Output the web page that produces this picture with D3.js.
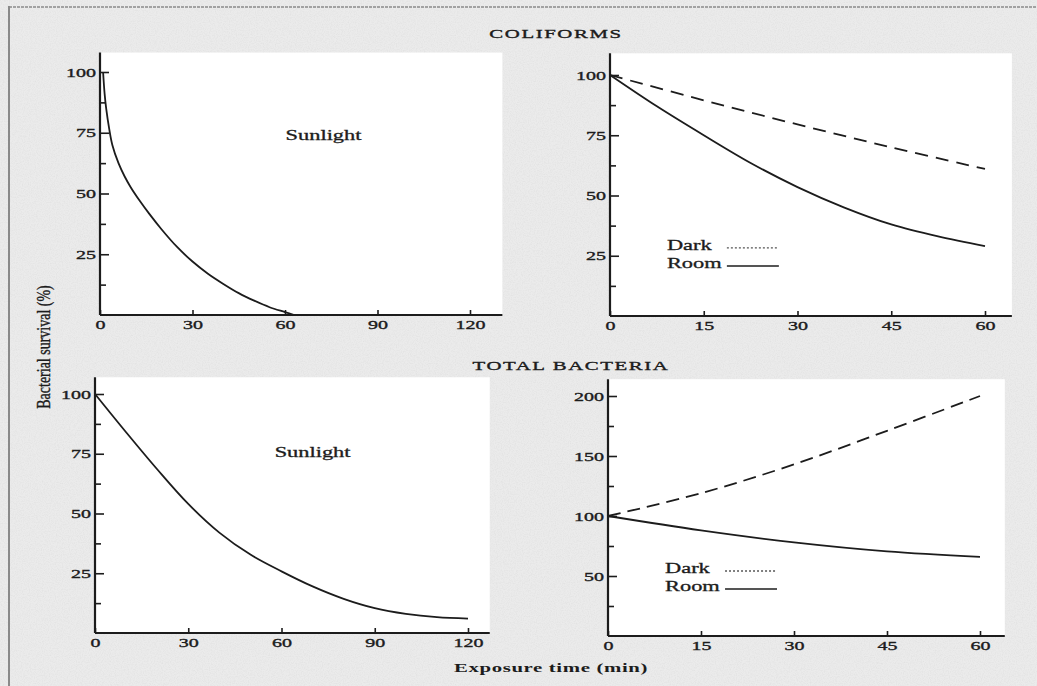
<!DOCTYPE html>
<html>
<head>
<meta charset="utf-8">
<script src="https://cdn.jsdelivr.net/npm/d3@7"></script>
<style>
  body { margin: 0; background: #e8e8e8; }
  svg { display: block; }
</style>
</head>
<body>
<div id="chart"></div>
<script>
// ---- values ----
// Coliforms, sunlight (0-120 min)
const coliSunTime = [1, 1.5, 2, 3, 4, 6, 8, 10, 13, 16, 20, 25, 30, 35, 40, 45, 50, 55, 60, 63];
const coliSunSurvival = [100, 91, 85, 76.5, 70, 62.5, 57, 52.5, 46.8, 41.6, 35.2, 28, 22, 17, 12.8, 9, 5.9, 3.2, 1.2, 0];

// Coliforms, dark vs room (0-60 min)
const coliDarkTime = [0, 15, 30, 45, 60];
const coliDarkSurvival = [100, 89.5, 79.5, 70, 61];
const coliRoomTime = [0, 7.5, 15, 22.5, 30, 37.5, 45, 52.5, 60];
const coliRoomSurvival = [100, 87, 75, 63.5, 53.5, 45, 38, 33, 29];

// Total bacteria, sunlight (0-120 min)
const totalSunTime = [0, 10, 20, 30, 40, 50, 60, 70, 80, 90, 100, 110, 120];
const totalSunSurvival = [100, 84, 68.5, 54, 42, 32.8, 25.8, 19.5, 14.3, 10.4, 8, 6.6, 6];

// Total bacteria, dark vs room (0-60 min)
const totalDarkTime = [0, 15, 30, 45, 60];
const totalDarkSurvival = [100, 119, 143, 171, 200];
const totalRoomTime = [0, 15, 30, 45, 60];
const totalRoomSurvival = [100, 88, 78, 70.5, 66];

// tick labels
const ticks120 = [0, 30, 60, 90, 120];
const ticks60 = [0, 15, 30, 45, 60];
const ticks100 = [25, 50, 75, 100];
const minor100 = [12.5, 37.5, 62.5, 87.5];
const ticks200 = [50, 100, 150, 200];
const minor200 = [25, 75, 125, 175];

const legendLabels = ["Dark", "Room"];

const zip = (t, v) => t.map((d, i) => ({ t: d, v: v[i] }));

// ---- layout ----
const W = 1037, H = 686;
const INK = "#1c1c1c";
const SERIF = "'Liberation Serif', 'DejaVu Serif', serif";
const STRETCH = 1.6; // the scan is stretched sideways

const panels = [
  {
    xDomain: [0, 120], xRange: [100, 470], xEnd: 130.5, xTicks: ticks120,
    yDomain: [0, 100], yRange: [315, 72], yTop: 108, yTicks: ticks100, yMinor: minor100,
    series: [{ data: zip(coliSunTime, coliSunSurvival), dash: null }],
    note: { text: "Sunlight", t: 72.5, v: 72 }
  },
  {
    xDomain: [0, 60], xRange: [610, 985], xEnd: 64.3, xTicks: ticks60,
    yDomain: [0, 100], yRange: [316, 75], yTop: 109, yTicks: ticks100, yMinor: minor100,
    series: [
      { data: zip(coliDarkTime, coliDarkSurvival), dash: "13,8" },
      { data: zip(coliRoomTime, coliRoomSurvival), dash: null }
    ],
    legend: { t: 9.1, v: 27.4 }
  },
  {
    xDomain: [0, 120], xRange: [95, 468], xEnd: 127, xTicks: ticks120,
    yDomain: [0, 100], yRange: [633, 394], yTop: 107, yTicks: ticks100, yMinor: minor100,
    series: [{ data: zip(totalSunTime, totalSunSurvival), dash: null }],
    note: { text: "Sunlight", t: 70, v: 73.5 }
  },
  {
    xDomain: [0, 60], xRange: [608, 980], xEnd: 64, xTicks: ticks60,
    yDomain: [0, 200], yRange: [636, 396], yTop: 214, yTicks: ticks200, yMinor: minor200,
    series: [
      { data: zip(totalDarkTime, totalDarkSurvival), dash: "13,7" },
      { data: zip(totalRoomTime, totalRoomSurvival), dash: null }
    ],
    legend: { t: 9.2, v: 52.5 }
  }
];

const svg = d3.select("#chart").append("svg")
  .attr("width", W)
  .attr("height", H);

// paper grain
const defs = svg.append("defs");
const grain = defs.append("filter").attr("id", "grain");
grain.append("feTurbulence")
  .attr("type", "fractalNoise")
  .attr("baseFrequency", 0.85)
  .attr("numOctaves", 2)
  .attr("seed", 4);
grain.append("feColorMatrix")
  .attr("type", "matrix")
  .attr("values", "0 0 0 0 0.45  0 0 0 0 0.45  0 0 0 0 0.45  0 0 0 -0.9 0.55");

svg.append("rect").attr("width", W).attr("height", H).attr("fill", "#ebebeb");
svg.append("rect").attr("width", W).attr("height", H).attr("filter", "url(#grain)").attr("opacity", 0.35);

// scan border (left edge + top edge)
svg.append("line")
  .attr("x1", 9).attr("x2", 9).attr("y1", 6).attr("y2", H)
  .attr("stroke", "#6a6a6a").attr("stroke-width", 1.5);
svg.append("line")
  .attr("x1", 9).attr("x2", W).attr("y1", 7).attr("y2", 7)
  .attr("stroke", "#8a8a8a").attr("stroke-width", 1.5)
  .attr("stroke-dasharray", "3,1");

function stretchText(sel, k) {
  sel.each(function () {
    const x = +this.getAttribute("x") || 0;
    d3.select(this).attr("transform", `translate(${x * (1 - k)},0) scale(${k},1)`);
  });
}

// printed text looks a little heavier than a clean font
function inked(sel, w) {
  sel.attr("stroke", INK).attr("stroke-width", w).attr("paint-order", "stroke");
}

const line = d3.line()
  .x(d => d.x)
  .y(d => d.y)
  .curve(d3.curveCatmullRom.alpha(0.5));

panels.forEach(p => {
  const x = d3.scaleLinear().domain(p.xDomain).range(p.xRange);
  const y = d3.scaleLinear().domain(p.yDomain).range(p.yRange);
  const g = svg.append("g");

  // white plot area
  g.append("rect")
    .attr("x", x(0))
    .attr("y", y(p.yTop))
    .attr("width", x(p.xEnd) - x(0))
    .attr("height", y(0) - y(p.yTop))
    .attr("fill", "#ffffff");

  // y axis (major + minor ticks pointing inward)
  const yAxis = g.append("g")
    .attr("transform", `translate(${x(0)},0)`)
    .call(d3.axisLeft(y).tickValues(p.yTicks).tickSize(-9).tickPadding(4).tickFormat(d3.format("d")));
  const yMinor = g.append("g")
    .attr("transform", `translate(${x(0)},0)`)
    .call(d3.axisLeft(y).tickValues(p.yMinor).tickSize(-6).tickFormat(""));

  // x axis
  const xAxis = g.append("g")
    .attr("transform", `translate(0,${y(0)})`)
    .call(d3.axisBottom(x).tickValues(p.xTicks).tickSize(-5).tickPadding(5).tickFormat(d3.format("d")));

  [yAxis, yMinor, xAxis].forEach(a => {
    a.select(".domain").remove();
    a.selectAll(".tick line").attr("stroke", INK).attr("stroke-width", 1.6);
    a.selectAll(".tick text")
      .attr("fill", INK)
      .style("font-family", SERIF)
      .style("font-size", "12.5px")
      .call(inked, 0.35);
  });
  stretchText(yAxis.selectAll(".tick text"), STRETCH);
  stretchText(xAxis.selectAll(".tick text"), STRETCH);

  // axis lines
  g.append("line")
    .attr("x1", x(0)).attr("x2", x(0))
    .attr("y1", y(0)).attr("y2", y(p.yTop))
    .attr("stroke", INK).attr("stroke-width", 2.2);
  g.append("line")
    .attr("x1", x(0)).attr("x2", x(p.xEnd))
    .attr("y1", y(0)).attr("y2", y(0))
    .attr("stroke", INK).attr("stroke-width", 2.2);

  // curves
  p.series.forEach(s => {
    g.append("path")
      .datum(s.data.map(d => ({ x: x(d.t), y: y(d.v) })))
      .attr("d", line)
      .attr("fill", "none")
      .attr("stroke", INK)
      .attr("stroke-width", 1.8)
      .attr("stroke-dasharray", s.dash);
  });

  if (p.note) {
    g.append("text")
      .attr("x", x(p.note.t))
      .attr("y", y(p.note.v))
      .attr("text-anchor", "middle")
      .attr("fill", INK)
      .style("font-family", SERIF)
      .style("font-size", "14px")
      .text(p.note.text)
      .call(inked, 0.3)
      .call(stretchText, STRETCH);
  }

  if (p.legend) {
    const lg = g.append("g")
      .attr("transform", `translate(${x(p.legend.t)},${y(p.legend.v)})`);
    legendLabels.forEach((name, i) => {
      lg.append("text")
        .attr("x", 0)
        .attr("y", i * 18)
        .attr("fill", INK)
        .style("font-family", SERIF)
        .style("font-size", "14px")
        .text(name)
        .call(inked, 0.3)
        .call(stretchText, STRETCH);
      lg.append("line")
        .attr("x1", 60).attr("x2", 112)
        .attr("y1", i * 18 - 2).attr("y2", i * 18 - 2)
        .attr("stroke", i === 0 ? "#555" : INK)
        .attr("stroke-width", i === 0 ? 1.3 : 1.4)
        .attr("stroke-dasharray", i === 0 ? "2,2" : null);
    });
  }
});

// titles and axis labels
const titles = [
  { text: "COLIFORMS", x: 556, y: 38 },
  { text: "TOTAL BACTERIA", x: 571, y: 370 }
];
titles.forEach(t => {
  svg.append("text")
    .attr("x", t.x)
    .attr("y", t.y)
    .attr("text-anchor", "middle")
    .attr("fill", INK)
    .style("font-family", SERIF)
    .style("font-size", "13px")
    .style("letter-spacing", "1px")
    .text(t.text)
    .call(inked, 0.35)
    .call(stretchText, STRETCH);
});

svg.append("text")
  .attr("x", 551)
  .attr("y", 672)
  .attr("text-anchor", "middle")
  .attr("fill", INK)
  .style("font-family", SERIF)
  .style("font-size", "13px")
  .style("font-weight", "bold")
  .style("letter-spacing", "0.4px")
  .text("Exposure time (min)")
  .call(stretchText, STRETCH);

svg.append("text")
  .attr("transform", "translate(50,347) scale(1.3,1) rotate(-90)")
  .attr("text-anchor", "middle")
  .attr("fill", INK)
  .style("font-family", SERIF)
  .style("font-size", "14px")
  .text("Bacterial survival (%)")
  .call(inked, 0.3);
</script>
</body>
</html>
